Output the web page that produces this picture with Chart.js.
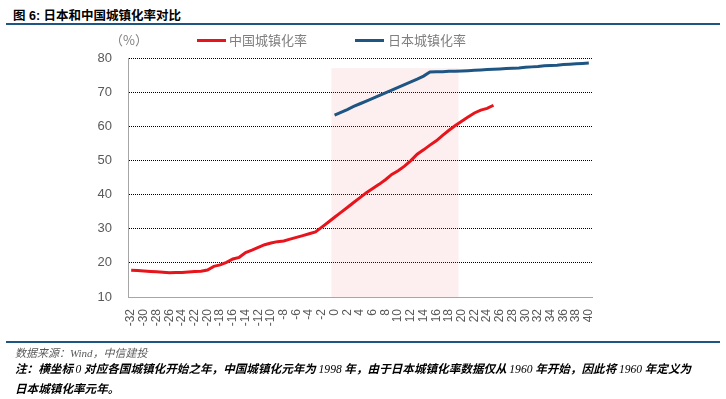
<!DOCTYPE html>
<html>
<head>
<meta charset="utf-8">
<script src="https://cdn.jsdelivr.net/npm/chart.js@4.4.0/dist/chart.umd.min.js"></script>
<style>
    body { margin: 0; width: 726px; height: 399px; background: #fff; position: relative; overflow: hidden; font-family: "Liberation Sans", "Noto Sans CJK SC", sans-serif; }
    .title { position: absolute; left: 13px; top: 5px; font: bold 12.5px "Liberation Sans", "Noto Sans CJK SC"; color: #000; }
    .rule { position: absolute; left: 6px; right: 6px; height: 2px; background: #1f5582; }
    #wrap { position: absolute; left: 0; top: 30px; width: 726px; height: 312px; }
    .leg { position: absolute; top: 32px; font: 13px "Noto Sans CJK SC"; color: #7f7f7f; line-height: 16px; }
    .swatch { position: absolute; top: 39px; width: 29px; height: 3px; }
    .src { position: absolute; left: 15px; top: 344px; font: italic 11px "Noto Sans CJK SC"; color: #595959; }
    .note { position: absolute; left: 15px; top: 359px; white-space: nowrap; font: italic bold 11.6px "Noto Sans CJK SC"; color: #000; line-height: 18px; }
    .num { font-family: "Liberation Serif"; font-weight: normal; }
</style>
</head>
<body>
<div class="title">图 6: 日本和中国城镇化率对比</div>
<div class="rule" style="top:23px"></div>
<div id="wrap"><canvas id="myChart"></canvas></div>
<div class="leg" style="left:110px">（%）</div>
<div class="swatch" style="left:197px;background:#e8141c"></div>
<div class="leg" style="left:229px">中国城镇化率</div>
<div class="swatch" style="left:355px;background:#1f5582"></div>
<div class="leg" style="left:388px">日本城镇化率</div>
<div class="rule" style="top:341px"></div>
<div class="src">数据来源：<span class="num" style="font-style:italic">Wind</span>，中信建投</div>
<div class="note">注：横坐标 <span class="num">0</span> 对应各国城镇化开始之年，中国城镇化元年为 <span class="num">1998</span> 年，由于日本城镇化率数据仅从 <span class="num">1960</span> 年开始，因此将 <span class="num">1960</span> 年定义为<br>日本城镇化率元年。</div>
<script>
// x = years since start of urbanisation (China 1998, Japan 1960)
const years = []
for (let i = -32; i <= 40; i++) years.push(i)

// China -32 .. 25
const chinaRate = [17.86, 17.74, 17.62, 17.50, 17.38, 17.26, 17.13, 17.20, 17.16, 17.34, 17.44, 17.55,
    17.92, 18.96, 19.39, 20.16, 21.13, 21.62, 23.01, 23.71, 24.52, 25.32, 25.81, 26.21, 26.41, 26.94, 27.46, 27.99, 28.51, 29.04,
    30.48, 31.91, 33.35, 34.78, 36.22, 37.66, 39.09, 40.53, 41.76, 42.99, 44.34, 45.89, 46.99, 48.34,
    49.95, 51.83, 53.10, 54.49, 55.75, 57.33, 58.84, 60.24, 61.50, 62.71, 63.89, 64.72, 65.22, 66.16]

// Japan 0 .. 40
const japanRate = [63.3, 64.1, 64.9, 65.8, 66.6, 67.4, 68.2, 69.0, 69.8, 70.6, 71.4, 72.2, 73.0, 73.8, 74.7, 75.9,
    76.0, 76.0, 76.1, 76.1, 76.2, 76.3, 76.4, 76.5, 76.6, 76.7, 76.8, 76.9, 77.0, 77.1, 77.3, 77.4,
    77.5, 77.7, 77.8, 77.9, 78.1, 78.2, 78.3, 78.4, 78.5]

// shaded span 0 .. 19
const shadeFrom = 0
const shadeTo = 19
const shadeTop = 77

const chinaData = years.map(y => y <= 25 ? chinaRate[y + 32] : null)
const japanData = years.map(y => y >= 0 ? japanRate[y] : null)

const shadePlugin = {
    id: 'shade',
    beforeDatasetsDraw(chart) {
        const x = chart.scales.x, y = chart.scales.y
        const half = (x.getPixelForValue(1) - x.getPixelForValue(0)) / 2
        const x0 = x.getPixelForValue(years.indexOf(shadeFrom)) - half
        const x1 = x.getPixelForValue(years.indexOf(shadeTo)) + half
        const y0 = y.getPixelForValue(shadeTop)
        const ctx = chart.ctx
        ctx.save()
        ctx.fillStyle = 'rgba(240, 132, 140, 0.13)'
        ctx.fillRect(x0, y0, x1 - x0, y.bottom - y0)
        ctx.restore()
    }
}

const tickFont = { family: "Liberation Sans", size: 13 }

new Chart(document.getElementById('myChart'), {
    type: 'line',
    data: {
        labels: years,
        datasets: [{
            label: '中国城镇化率',
            data: chinaData,
            borderColor: '#e8141c',
            backgroundColor: '#e8141c',
            borderWidth: 3,
            pointRadius: 0
        },
        {
            label: '日本城镇化率',
            data: japanData,
            borderColor: '#1f5582',
            backgroundColor: '#1f5582',
            borderWidth: 3,
            pointRadius: 0
        }]
    },
    options: {
        responsive: true,
        maintainAspectRatio: false,
        animation: false,
        layout: { padding: { top: 28, right: 134, left: 0, bottom: 0 } },
        plugins: { legend: { display: false }, tooltip: { enabled: false } },
        scales: {
            x: {
                offset: true,
                grid: { display: false },
                border: { display: true, color: '#a6a6a6', width: 1 },
                ticks: {
                    autoSkip: false,
                    minRotation: 90,
                    maxRotation: 90,
                    padding: 4,
                    color: '#595959',
                    font: { family: "Liberation Sans", size: 12 },
                    callback: function (val, i) {
                        const y = years[i]
                        return y % 2 === 0 ? String(y) : ''
                    }
                },
                afterFit: s => { s.height = 45 }
            },
            y: {
                min: 10,
                max: 80,
                ticks: { stepSize: 10, padding: 16, color: '#595959', font: tickFont },
                grid: {
                    drawTicks: false,
                    color: c => c.tick && c.tick.value === 10 ? 'rgba(0,0,0,0)' : '#000',
                    lineWidth: 1
                },
                border: { display: true, color: '#a6a6a6', width: 1, dash: [1, 1] },
                afterFit: s => { s.width = 128 }
            }
        }
    },
    plugins: [shadePlugin]
})
</script>
</body>
</html>
